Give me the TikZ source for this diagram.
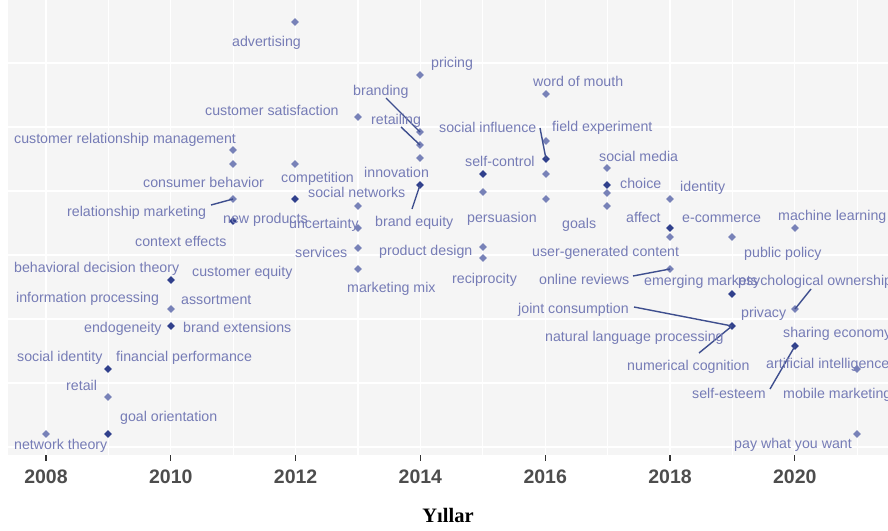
\documentclass[tikz,border=0pt]{standalone}
\usepackage{fontspec}
\setmainfont{Liberation Sans}
\newfontfamily\axserif{Liberation Serif}
\usetikzlibrary{shapes.geometric}
\definecolor{panelbg}{RGB}{245,245,245}
\definecolor{labcol}{RGB}{118,124,182}
\definecolor{ptlight}{RGB}{120,130,184}
\definecolor{ptdark}{RGB}{48,64,140}
\definecolor{concol}{RGB}{62,78,142}
\definecolor{axtext}{RGB}{77,77,77}
\tikzset{
  lpt/.style={diamond, fill=ptlight, inner sep=0pt, minimum size=8pt},
  dpt/.style={diamond, fill=ptdark, inner sep=0pt, minimum size=8pt},
  lab/.style={anchor=mid west, text=labcol, font=\fontsize{14.2}{15}\selectfont, inner sep=0pt, yshift=-2.5pt},
  con/.style={draw=concol, line width=1.4pt},
  grid/.style={draw=white, line width=1.3pt},
  yearlab/.style={anchor=base, text=axtext, font=\fontsize{19.5}{20}\selectfont\bfseries, inner sep=0pt},
  tickmark/.style={draw=black!80, line width=1.3pt}
}
\begin{document}
\begin{tikzpicture}[x=1pt,y=-1pt]
\useasboundingbox (0,0) rectangle (888,530);
\clip (0,0) rectangle (888,530);
% panel
\fill[panelbg] (8,0) rectangle (888,455);
\foreach \k in {0,...,13} {\draw[grid] ({46+62.4*\k},0) -- ({46+62.4*\k},455);}
\foreach \k in {0,...,6} {\draw[grid] (8,{63+64*\k}) -- (888,{63+64*\k});}
% axis ticks and labels
\foreach \yr [count=\i from 0] in {2008,2010,2012,2014,2016,2018,2020} {
  \draw[tickmark] ({46+124.8*\i},455) -- ({46+124.8*\i},461);
  \node[yearlab] (yr\yr) at ({46+124.8*\i},483) {\yr};
}
\node[anchor=base, inner sep=0pt, font=\axserif\fontsize{20.5}{21}\selectfont\bfseries] (xtitle) at (448,522) {Yıllar};
% points
\node[lpt] (p08a) at (46,434) {};
\node[dpt] (p09a) at (108,369) {};
\node[lpt] (p09b) at (108,397) {};
\node[dpt] (p09c) at (108,434) {};
\node[dpt] (p10a) at (171,280) {};
\node[lpt] (p10b) at (171,309) {};
\node[dpt] (p10c) at (171,326) {};
\node[lpt] (p11a) at (233,150) {};
\node[lpt] (p11b) at (233,164) {};
\node[lpt] (p11c) at (233,199) {};
\node[dpt] (p11d) at (233,221) {};
\node[lpt] (p12a) at (295,22) {};
\node[lpt] (p12b) at (295,164) {};
\node[dpt] (p12c) at (295,199) {};
\node[lpt] (p13a) at (358,117) {};
\node[lpt] (p13b) at (358,206) {};
\node[lpt] (p13c) at (358,228) {};
\node[lpt] (p13d) at (358,248) {};
\node[lpt] (p13e) at (358,269) {};
\node[lpt] (p14a) at (420,75) {};
\node[lpt] (p14b) at (420,132) {};
\node[lpt] (p14c) at (420,145) {};
\node[lpt] (p14d) at (420,158) {};
\node[dpt] (p14e) at (420,185) {};
\node[dpt] (p15a) at (483,174) {};
\node[lpt] (p15b) at (483,192) {};
\node[lpt] (p15c) at (483,247) {};
\node[lpt] (p15d) at (483,258) {};
\node[lpt] (p16a) at (546,94) {};
\node[lpt] (p16b) at (546,141) {};
\node[dpt] (p16c) at (546,159) {};
\node[lpt] (p16d) at (546,174) {};
\node[lpt] (p16e) at (546,199) {};
\node[lpt] (p17a) at (607,168) {};
\node[lpt] (p17b) at (607,193) {};
\node[dpt] (p17c) at (607,185) {};
\node[lpt] (p17d) at (607,206) {};
\node[lpt] (p18a) at (670,199) {};
\node[dpt] (p18b) at (670,228) {};
\node[lpt] (p18c) at (670,237) {};
\node[lpt] (p18d) at (670,269) {};
\node[lpt] (p19a) at (732,237) {};
\node[dpt] (p19b) at (732,294) {};
\node[dpt] (p19c) at (732,326) {};
\node[lpt] (p20a) at (795,228) {};
\node[lpt] (p20b) at (795,309) {};
\node[dpt] (p20c) at (795,346) {};
\node[lpt] (p21a) at (857,369) {};
\node[lpt] (p21b) at (857,434) {};
% connector free ends
\coordinate (cbranding) at (386,98);
\coordinate (cretailing) at (401,127);
\coordinate (cbrandeq) at (412,209);
\coordinate (csocinf) at (540,128);
\coordinate (crelmkt) at (211,205);
\coordinate (conrev) at (633,276);
\coordinate (cjoint) at (634,307);
\coordinate (cnumcog) at (699,353);
\coordinate (cpsych) at (811,289);
\coordinate (cselfest) at (770,389);
\draw[con] (cbranding) -- (p14b.center);
\draw[con] (cretailing) -- (p14c.center);
\draw[con] (cbrandeq) -- (p14e.center);
\draw[con] (csocinf) -- (p16c.center);
\draw[con] (crelmkt) -- (p11c.center);
\draw[con] (conrev) -- (p18d.center);
\draw[con] (cjoint) -- (p19c.center);
\draw[con] (cnumcog) -- (p19c.center);
\draw[con] (cpsych) -- (p20b.center);
\draw[con] (cselfest) -- (p20c.center);
% labels
\node[lab] (l1) at (232,41) {advertising};
\node[lab] (l2) at (205,110) {customer satisfaction};
\node[lab] (l3) at (14,138) {customer relationship management};
\node[lab] (l4) at (431,62) {pricing};
\node[lab] (l5) at (533,81) {word of mouth};
\node[lab] (l6) at (353,90) {branding};
\node[lab] (l7) at (371,119) {retailing};
\node[lab] (l8) at (439,127) {social influence};
\node[lab] (l9) at (552,126) {field experiment};
\node[lab] (l10) at (599,156) {social media};
\node[lab] (l11) at (465,161) {self-control};
\node[lab] (l12) at (364,172) {innovation};
\node[lab] (l13) at (281,177) {competition};
\node[lab] (l14) at (620,183) {choice};
\node[lab] (l15) at (680,186) {identity};
\node[lab] (l16) at (143,182) {consumer behavior};
\node[lab] (l17) at (308,192) {social networks};
\node[lab] (l18) at (67,211) {relationship marketing};
\node[lab] (l19) at (223,218) {new products};
\node[lab] (l20) at (289,223) {uncertainty};
\node[lab] (l21) at (375,221) {brand equity};
\node[lab] (l22) at (467,217) {persuasion};
\node[lab] (l23) at (562,223) {goals};
\node[lab] (l24) at (626,217) {affect};
\node[lab] (l25) at (682,217) {e-commerce};
\node[lab] (l26) at (778,215) {machine learning};
\node[lab] (l27) at (135,241) {context effects};
\node[lab] (l28) at (295,252) {services};
\node[lab] (l29) at (379,250) {product design};
\node[lab] (l30) at (532,251) {user-generated content};
\node[lab] (l31) at (744,252) {public policy};
\node[lab] (l32) at (14,267) {behavioral decision theory};
\node[lab] (l33) at (192,271) {customer equity};
\node[lab] (l34) at (452,278) {reciprocity};
\node[lab] (l35) at (539,279) {online reviews};
\node[lab] (l36) at (644,280) {emerging markets};
\node[lab] (l37) at (738,280) {psychological ownership};
\node[lab] (l38) at (347,287) {marketing mix};
\node[lab] (l39) at (16,297) {information processing};
\node[lab] (l40) at (181,299) {assortment};
\node[lab] (l41) at (741,312) {privacy};
\node[lab] (l42) at (518,308) {joint consumption};
\node[lab] (l43) at (84,327) {endogeneity};
\node[lab] (l44) at (183,327) {brand extensions};
\node[lab] (l45) at (545,336) {natural language processing};
\node[lab] (l46) at (783,332) {sharing economy};
\node[lab] (l47) at (17,356) {social identity};
\node[lab] (l48) at (116,356) {financial performance};
\node[lab] (l49) at (627,365) {numerical cognition};
\node[lab] (l50) at (766,363) {artificial intelligence};
\node[lab] (l51) at (66,385) {retail};
\node[lab] (l52) at (692,393) {self-esteem};
\node[lab] (l53) at (783,393) {mobile marketing};
\node[lab] (l54) at (120,416) {goal orientation};
\node[lab] (l55) at (14,444) {network theory};
\node[lab] (l56) at (734,443) {pay what you want};
\end{tikzpicture}
\end{document}
